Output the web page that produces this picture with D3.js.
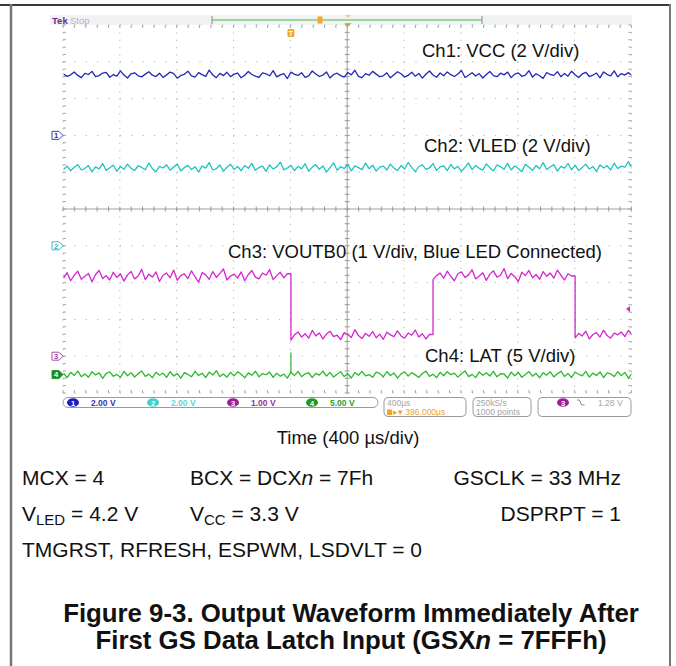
<!DOCTYPE html>
<html>
<head>
<meta charset="utf-8">
<script src="https://cdn.jsdelivr.net/npm/d3@7"></script>
<style>
body { margin: 0; background: #fff; }
svg { display: block; font-family: "Liberation Sans", Arial, Helvetica, sans-serif; }
</style>
</head>
<body>
<svg id="chart" width="676" height="666"></svg>
<script>
// scope settings
var timePerDiv = 400;     // us / div
var trigDelay = 396;      // us, screen centre relative to trigger
var sampleStart = -1600;  // us, first plotted sample
var sampleStep = 25;      // us between plotted samples

var chLabels = ["Ch1: VCC (2 V/div)", "Ch2: VLED (2 V/div)",
                "Ch3: VOUTB0 (1 V/div, Blue LED Connected)", "Ch4: LAT (5 V/div)"];
var chColors = ["#2626b8", "#1fc3c1", "#d426cf", "#2cb82c"];
var voltsPerDiv = [2, 2, 1, 5];
var groundDiv = [2, -1, -4, -4.5];

// Ch1 VCC (V)
var vcc = [3.34,3.21,3.29,3.45,3.26,3.14,3.37,3.31,3.48,3.19,
3.25,3.39,3.42,3.16,3.30,3.22,3.51,3.28,3.12,3.35,
3.40,3.24,3.18,3.33,3.46,3.27,3.20,3.38,3.15,3.29,
3.44,3.36,3.11,3.26,3.32,3.49,3.23,3.17,3.41,3.30,
3.21,3.55,3.28,3.14,3.37,3.25,3.43,3.19,3.33,3.39,
3.13,3.27,3.47,3.31,3.22,3.16,3.40,3.35,3.24,3.52,
3.18,3.29,3.36,3.09,3.44,3.32,3.26,3.41,3.15,3.23,
3.50,3.34,3.20,3.28,3.45,3.12,3.31,3.38,3.25,3.17,
3.42,3.29,3.54,3.21,3.14,3.36,3.27,3.48,3.33,3.19,
3.24,3.40,3.13,3.30,3.46,3.35,3.18,3.26,3.43,3.22,
3.37,3.11,3.32,3.50,3.28,3.16,3.39,3.24,3.45,3.30,
3.20,3.34,3.53,3.15,3.27,3.41,3.23,3.36,3.12,3.31,
3.47,3.25,3.19,3.38,3.29,3.44,3.14,3.33,3.40,3.21,
3.28,3.52,3.17,3.35,3.24,3.10,3.42,3.31,3.26,3.46,
3.19,3.37,3.22,3.49,3.30,3.15,3.34,3.43,3.20,3.27,
3.39,3.13,3.45,3.32,3.23,3.51,3.18,3.36,3.28,3.41,
3.25];

// Ch2 VLED (V)
var vled = [4.15,4.33,4.08,4.27,4.41,4.12,4.20,4.36,4.02,4.29,
4.18,4.47,4.10,4.24,4.38,4.05,4.31,4.16,4.44,4.21,
4.09,4.35,4.26,4.13,4.50,4.19,4.03,4.32,4.23,4.40,
4.11,4.28,4.45,4.07,4.25,4.37,4.14,4.30,4.01,4.34,
4.22,4.52,4.12,4.19,4.39,4.06,4.27,4.43,4.15,4.31,
4.08,4.36,4.21,4.48,4.10,4.26,4.33,4.04,4.40,4.17,
4.29,4.55,4.13,4.23,4.37,4.09,4.32,4.18,4.46,4.05,
4.28,4.41,4.16,4.34,4.02,4.24,4.51,4.11,4.30,4.20,
4.42,4.07,4.35,4.25,4.14,4.49,4.19,4.38,4.06,4.27,
4.33,4.12,4.44,4.22,4.09,4.36,4.17,4.53,4.26,4.03,
4.31,4.40,4.15,4.23,4.47,4.10,4.29,4.35,4.08,4.42,
4.18,4.32,4.05,4.26,4.50,4.14,4.37,4.21,4.11,4.45,
4.24,4.07,4.39,4.30,4.16,4.48,4.12,4.34,4.20,4.03,
4.43,4.27,4.10,4.36,4.19,4.52,4.15,4.28,4.41,4.06,
4.32,4.22,4.47,4.13,4.38,4.09,4.25,4.44,4.17,4.31,
4.04,4.40,4.23,4.35,4.12,4.49,4.20,4.33,4.27,4.58,
4.21];

// Ch3 VOUTB0 (V)
var voutb0 = [2.12,2.27,2.05,2.20,2.31,2.09,2.17,2.25,2.02,2.22,
2.33,2.11,2.19,2.07,2.28,2.14,2.24,2.04,2.21,2.30,
2.10,2.18,2.36,2.08,2.23,2.15,2.29,2.03,2.20,2.26,
2.13,2.34,2.06,2.19,2.24,2.11,2.32,2.16,2.01,2.27,
2.21,2.09,2.30,2.14,2.25,2.37,2.07,2.18,2.23,2.12,
2.29,2.05,2.22,2.33,2.15,2.10,2.26,2.20,2.35,2.08,
2.19,2.28,2.13,2.24,
0.44,0.58,0.66,0.52,0.61,0.49,0.70,0.55,0.63,0.47,
0.60,0.68,0.53,0.57,0.45,0.64,0.59,0.51,0.72,0.56,
0.48,0.62,0.54,0.67,0.50,0.60,0.46,0.65,0.58,0.53,
0.69,0.55,0.49,0.63,0.57,0.71,0.52,0.61,0.47,0.59,
2.08,2.19,2.26,2.12,2.31,2.17,2.05,2.24,2.29,2.14,
2.21,2.35,2.10,2.18,2.27,2.06,2.23,2.32,2.15,2.20,
2.38,2.11,2.25,2.16,2.03,2.28,2.19,2.33,2.13,2.22,
2.09,2.30,2.17,2.26,2.12,2.34,2.20,2.07,2.24,2.18,
0.50,0.62,0.55,0.68,0.47,0.59,0.64,0.52,0.71,0.56,
0.49,0.63,0.58,0.66,0.53,0.70,0.60];
var voutEdges = [0, 1000, 2000];   // us, where VOUTB0 switches

// Ch4 LAT (V)
var lat = [0.18,-0.42,0.31,-0.11,0.47,-0.28,0.09,-0.36,0.40,-0.05,
0.24,-0.50,0.15,0.36,-0.22,0.03,-0.39,0.44,-0.16,0.27,
-0.33,0.11,0.49,-0.25,0.06,-0.45,0.32,-0.08,0.21,-0.37,
0.41,-0.19,0.13,-0.48,0.26,0.02,-0.30,0.45,-0.13,0.19,
-0.41,0.34,-0.06,0.52,-0.27,0.08,-0.35,0.29,-0.17,0.38,
0.04,-0.44,0.23,-0.10,0.46,-0.31,0.14,-0.02,0.35,-0.38,
0.20,-0.23,0.07,-0.47,0.33,-0.14,0.43,-0.29,0.10,0.25,
-0.40,0.16,-0.07,0.48,-0.20,0.30,-0.34,0.05,0.39,-0.26,
0.12,-0.46,0.28,-0.09,0.44,-0.18,0.01,-0.37,0.33,0.17,
-0.32,0.42,-0.12,0.22,-0.49,0.09,0.36,-0.21,0.27,-0.04,
-0.38,0.15,0.47,-0.24,0.06,-0.43,0.31,-0.15,0.40,-0.01,
0.21,-0.34,0.11,0.50,-0.28,0.03,-0.41,0.37,-0.09,0.24,
-0.19,0.45,-0.30,0.13,0.08,-0.46,0.34,-0.16,0.29,-0.36,
0.02,0.41,-0.22,0.18,-0.44,0.26,-0.07,0.38,-0.31,0.10,
0.47,-0.25,0.14,-0.39,0.32,0.05,-0.17,0.43,-0.33,0.20,
-0.11,0.36,-0.42,0.23,0.09,-0.27,0.39,-0.14,0.30,-0.48,
0.16];
var latPulse = [0, 3.0];   // time (us), peak (V)

var trigLevel = 1.28;      // V on Ch3
var sampleRate = "250kS/s", recordLen = "1000 points";

var svg = d3.select("#chart");

// frame of the figure box
svg.append("line").attr("x1", 0).attr("x2", 671).attr("y1", 5).attr("y2", 5)
    .attr("stroke", "#3a3a3a").attr("stroke-width", 2);
svg.append("line").attr("x1", 11).attr("x2", 11).attr("y1", 4).attr("y2", 666)
    .attr("stroke", "#777").attr("stroke-width", 2.5);
svg.append("line").attr("x1", 670).attr("x2", 670).attr("y1", 4).attr("y2", 666)
    .attr("stroke", "#777").attr("stroke-width", 2);

// scales: time in us, vertical in divisions
var x = d3.scaleLinear()
    .domain([trigDelay - 5 * timePerDiv, trigDelay + 5 * timePerDiv])
    .range([63, 631.4]);
var y = d3.scaleLinear().domain([-5, 5]).range([393, 25]);

var t0 = x.domain()[0];
var majorT = d3.range(11).map(function(i) { return t0 + i * timePerDiv; });
var minorT = d3.range(51).map(function(i) { return t0 + i * timePerDiv / 5; });
var majorV = d3.range(-5, 6);
var minorV = d3.range(51).map(function(i) { return -5 + i / 5; });

var dx = x(t0 + timePerDiv / 5) - x(t0);
var dy = y(0) - y(0.2);

// top status strip
svg.append("rect").attr("x", 50).attr("y", 15).attr("width", 582).attr("height", 10)
    .attr("fill", "#f0f2f4");
svg.append("text").attr("x", 52).attr("y", 23.5).attr("font-size", 9.5)
    .attr("font-weight", "bold").attr("fill", "#6a2a8c").text("Tek");
svg.append("text").attr("x", 70).attr("y", 23.5).attr("font-size", 9.5)
    .attr("fill", "#bdb4cc").text("Stop");
svg.append("line").attr("x1", 212).attr("x2", 482).attr("y1", 20).attr("y2", 20)
    .attr("stroke", "#9ad69a").attr("stroke-width", 2);
[212, 482].forEach(function(px) {
    svg.append("line").attr("x1", px).attr("x2", px).attr("y1", 16).attr("y2", 24)
        .attr("stroke", "#8a8a8a");
});
svg.append("rect").attr("x", 317.5).attr("y", 16.5).attr("width", 5).attr("height", 7)
    .attr("fill", "#f5a623");
svg.append("path").attr("d", "M345,15 h6 l-3,3 z").attr("fill", "#f8c77a");
svg.append("path").attr("d", "M344.5,23 h7 l-3.5,4 z").attr("fill", "#f5a623");

// graticule
var grid = svg.append("g");
majorT.forEach(function(t) {
    grid.append("line").attr("x1", x(t)).attr("x2", x(t)).attr("y1", y(5)).attr("y2", y(-5))
        .attr("stroke", "#b4b4b4").attr("stroke-dasharray", "1.2," + (dy - 1.2));
});
majorV.forEach(function(v) {
    grid.append("line").attr("x1", x.range()[0]).attr("x2", x.range()[1]).attr("y1", y(v)).attr("y2", y(v))
        .attr("stroke", "#b4b4b4").attr("stroke-dasharray", "1.2," + (dx - 1.2));
});
// edge ticks
minorT.forEach(function(t) {
    grid.append("line").attr("x1", x(t)).attr("x2", x(t)).attr("y1", y(5)).attr("y2", y(5) + 3)
        .attr("stroke", "#a6a6a6");
    grid.append("line").attr("x1", x(t)).attr("x2", x(t)).attr("y1", y(-5)).attr("y2", y(-5) - 3)
        .attr("stroke", "#a6a6a6");
    grid.append("line").attr("x1", x(t)).attr("x2", x(t)).attr("y1", y(0) - 2.5).attr("y2", y(0) + 2.5)
        .attr("stroke", "#9a9a9a");
});
minorV.forEach(function(v) {
    grid.append("line").attr("x1", x.range()[0]).attr("x2", x.range()[0] + 3).attr("y1", y(v)).attr("y2", y(v))
        .attr("stroke", "#a6a6a6");
    grid.append("line").attr("x1", x.range()[1]).attr("x2", x.range()[1] - 3).attr("y1", y(v)).attr("y2", y(v))
        .attr("stroke", "#a6a6a6");
    grid.append("line").attr("x1", x(trigDelay) - 2.5).attr("x2", x(trigDelay) + 2.5).attr("y1", y(v)).attr("y2", y(v))
        .attr("stroke", "#9a9a9a");
});
grid.append("line").attr("x1", x.range()[0]).attr("x2", x.range()[1]).attr("y1", y(0)).attr("y2", y(0))
    .attr("stroke", "#a0a0a0");
grid.append("line").attr("x1", x(trigDelay)).attr("x2", x(trigDelay)).attr("y1", y(5)).attr("y2", y(-5))
    .attr("stroke", "#a0a0a0");

// channel labels
var labelPos = [[422, 57], [424, 152], [228, 258], [425, 362]];
chLabels.forEach(function(s, c) {
    svg.append("text").attr("x", labelPos[c][0]).attr("y", labelPos[c][1])
        .attr("font-size", 18.5).attr("fill", "#111").text(s);
});

// traces
svg.append("clipPath").attr("id", "screen").append("rect")
    .attr("x", x.range()[0]).attr("y", y(5) - 2)
    .attr("width", x.range()[1] - x.range()[0]).attr("height", y(-5) - y(5) + 4);

var samples = d3.range(vcc.length).map(function(i) { return sampleStart + i * sampleStep; });

function tracePts(vals, edges) {
    var pts = [];
    vals.forEach(function(v, i) {
        var t = samples[i];
        if (i > 0 && edges.indexOf(t) >= 0) pts.push([t, vals[i - 1]]);
        pts.push([t, v]);
    });
    return pts;
}

var traces = [vcc, vled, voutb0, lat];
var traceEdges = [[], [], voutEdges, []];
var tg = svg.append("g").attr("clip-path", "url(#screen)");
traces.forEach(function(vals, c) {
    var line = d3.line()
        .x(function(d) { return x(d[0]); })
        .y(function(d) { return y(groundDiv[c] + d[1] / voltsPerDiv[c]); });
    tg.append("path").datum(tracePts(vals, traceEdges[c]))
        .attr("d", line).attr("fill", "none")
        .attr("stroke", chColors[c]).attr("stroke-width", 1.3)
        .attr("stroke-linejoin", "round");
});
var latIdx = samples.indexOf(latPulse[0]);
tg.append("line")
    .attr("x1", x(latPulse[0])).attr("x2", x(latPulse[0]))
    .attr("y1", y(groundDiv[3] + lat[latIdx] / voltsPerDiv[3]))
    .attr("y2", y(groundDiv[3] + latPulse[1] / voltsPerDiv[3]))
    .attr("stroke", chColors[3]).attr("stroke-width", 1.2);

// ground reference markers
var markerStroke = ["#2a2ab0", "#1fb8b8", "#a23aa8", "#1b8e1b"];
groundDiv.forEach(function(g, c) {
    var gy = y(g);
    var filled = c === 3;
    svg.append("path")
        .attr("d", "M52," + (gy - 4) + " h7 l4,4 l-4,4 h-7 z")
        .attr("fill", filled ? markerStroke[c] : "#fff")
        .attr("stroke", markerStroke[c]).attr("stroke-width", 0.9);
    svg.append("text").attr("x", 56).attr("y", gy + 2.8).attr("text-anchor", "middle")
        .attr("font-size", 7.5).attr("font-weight", "bold")
        .attr("fill", filled ? "#fff" : markerStroke[c]).text(c + 1);
});

// trigger position and level markers
var tx = x(0);
svg.append("rect").attr("x", tx - 3.5).attr("y", 29).attr("width", 7).attr("height", 8)
    .attr("rx", 1.5).attr("fill", "#f5a623");
svg.append("text").attr("x", tx).attr("y", 35.5).attr("text-anchor", "middle")
    .attr("font-size", 7).attr("font-weight", "bold").attr("fill", "#fff").text("T");
var tly = y(groundDiv[2] + trigLevel / voltsPerDiv[2]);
svg.append("path").attr("d", "M626," + tly + " l4,-3 v6 z").attr("fill", chColors[2]);

// readout boxes
var rd = svg.append("g").attr("font-size", 8.5);
rd.append("rect").attr("x", 63).attr("y", 397.5).attr("width", 315).attr("height", 10)
    .attr("rx", 5).attr("fill", "#fff").attr("stroke", "#9a9a9a");
var chipColor = ["#1c1cc0", "#3fd0d0", "#9a1e9a", "#1f9a1f"];
var readColor = ["#3535b5", "#63d3d3", "#9b2f9b", "#2f9f2f"];
var readX = [73, 153, 233, 312];
voltsPerDiv.forEach(function(v, c) {
    rd.append("ellipse").attr("cx", readX[c]).attr("cy", 402.5).attr("rx", 6).attr("ry", 4.3)
        .attr("fill", chipColor[c]);
    rd.append("text").attr("x", readX[c]).attr("y", 405.5).attr("text-anchor", "middle")
        .attr("font-size", 7.5).attr("font-weight", "bold").attr("fill", "#fff").text(c + 1);
    rd.append("text").attr("x", readX[c] + 18).attr("y", 405.8).attr("font-weight", "bold")
        .attr("fill", readColor[c]).text(d3.format(".2f")(v) + " V");
});
[[384, 82], [473, 58], [538, 93]].forEach(function(b) {
    rd.append("rect").attr("x", b[0]).attr("y", 397.5).attr("width", b[1]).attr("height", 19)
        .attr("rx", 4).attr("fill", "#fff").attr("stroke", "#9a9a9a");
});
rd.append("text").attr("x", 387).attr("y", 406).attr("fill", "#a5a5a5").text(timePerDiv + "µs");
rd.append("rect").attr("x", 387).attr("y", 409.5).attr("width", 5).attr("height", 5.5).attr("fill", "#f5a623");
rd.append("text").attr("x", 393).attr("y", 415).attr("fill", "#f0a030")
    .text("▸▾ " + d3.format(".3f")(trigDelay) + "µs");
rd.append("text").attr("x", 476).attr("y", 406).attr("fill", "#a5a5a5").text(sampleRate);
rd.append("text").attr("x", 476).attr("y", 415).attr("fill", "#a5a5a5").text(recordLen);
rd.append("ellipse").attr("cx", 563).attr("cy", 402.5).attr("rx", 6).attr("ry", 4.3).attr("fill", chipColor[2]);
rd.append("text").attr("x", 563).attr("y", 405.5).attr("text-anchor", "middle")
    .attr("font-size", 7.5).attr("font-weight", "bold").attr("fill", "#fff").text("3");
rd.append("path").attr("d", "M577,400 h2.5 l2,5 h3").attr("fill", "none").attr("stroke", "#888");
rd.append("text").attr("x", 598).attr("y", 406).attr("fill", "#a5a5a5")
    .text(d3.format(".2f")(trigLevel) + " V");

// axis caption
svg.append("text").attr("x", 348).attr("y", 444).attr("text-anchor", "middle")
    .attr("font-size", 18.5).attr("fill", "#111").text("Time (" + timePerDiv + " µs/div)");

// test conditions
var cond = svg.append("g").attr("font-size", 21).attr("fill", "#111");
cond.append("text").attr("x", 22).attr("y", 485).text("MCX = 4");
var t1 = cond.append("text").attr("x", 190).attr("y", 485);
t1.append("tspan").text("BCX = DCX");
t1.append("tspan").attr("font-style", "italic").text("n");
t1.append("tspan").text(" = 7Fh");
cond.append("text").attr("x", 621).attr("y", 485).attr("text-anchor", "end").text("GSCLK = 33 MHz");

var t2 = cond.append("text").attr("x", 22).attr("y", 521);
t2.append("tspan").text("V");
t2.append("tspan").attr("font-size", 15).attr("dy", 4).text("LED");
t2.append("tspan").attr("dy", -4).text(" = 4.2 V");
var t3 = cond.append("text").attr("x", 190).attr("y", 521);
t3.append("tspan").text("V");
t3.append("tspan").attr("font-size", 15).attr("dy", 4).text("CC");
t3.append("tspan").attr("dy", -4).text(" = 3.3 V");
cond.append("text").attr("x", 621).attr("y", 521).attr("text-anchor", "end").text("DSPRPT = 1");
cond.append("text").attr("x", 22).attr("y", 557).text("TMGRST, RFRESH, ESPWM, LSDVLT = 0");

// caption
var cap = svg.append("g").attr("font-size", 25.8).attr("font-weight", "bold")
    .attr("fill", "#111").attr("text-anchor", "middle");
cap.append("text").attr("x", 351).attr("y", 622).text("Figure 9-3. Output Waveform Immediately After");
var c2 = cap.append("text").attr("x", 351).attr("y", 649);
c2.append("tspan").text("First GS Data Latch Input (GSX");
c2.append("tspan").attr("font-style", "italic").text("n");
c2.append("tspan").text(" = 7FFFh)");
</script>
</body>
</html>
